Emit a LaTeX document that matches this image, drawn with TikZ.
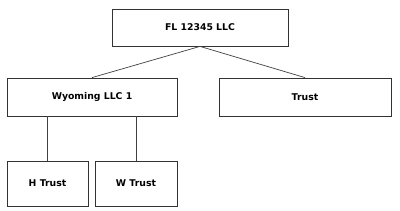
\documentclass[tikz,border=0pt]{standalone}
\usepackage{fontspec}
\setmainfont{DejaVu Sans}
\begin{document}
\begin{tikzpicture}[x=1pt,y=-1pt,
  orgbox/.style={draw=black!80,line width=0.8pt,fill=white,inner sep=0pt,font=\bfseries\fontsize{9.3}{11}\selectfont},
  link/.style={draw=black!75,line width=0.7pt}]
\useasboundingbox (0,0) rectangle (400,210);
\node[orgbox,minimum width=176pt,minimum height=37pt] (fl) at (200,27.5) {FL 12345 LLC};
\node[orgbox,minimum width=170pt,minimum height=38pt] (wy) at (92,97) {Wyoming LLC 1};
\node[orgbox,minimum width=172pt,minimum height=38pt] (tr) at (305,97) {Trust};
\node[orgbox,minimum width=81pt,minimum height=45pt] (ht) at (47.5,183.5) {H Trust};
\node[orgbox,minimum width=82pt,minimum height=45pt] (wt) at (136,183.5) {W Trust};
\draw[link] (fl.south) -- (wy.north);
\draw[link] (fl.south) -- (tr.north);
\draw[link] (ht.north) -- (ht.north |- wy.south);
\draw[link] (wt.north) -- (wt.north |- wy.south);
\end{tikzpicture}
\end{document}
